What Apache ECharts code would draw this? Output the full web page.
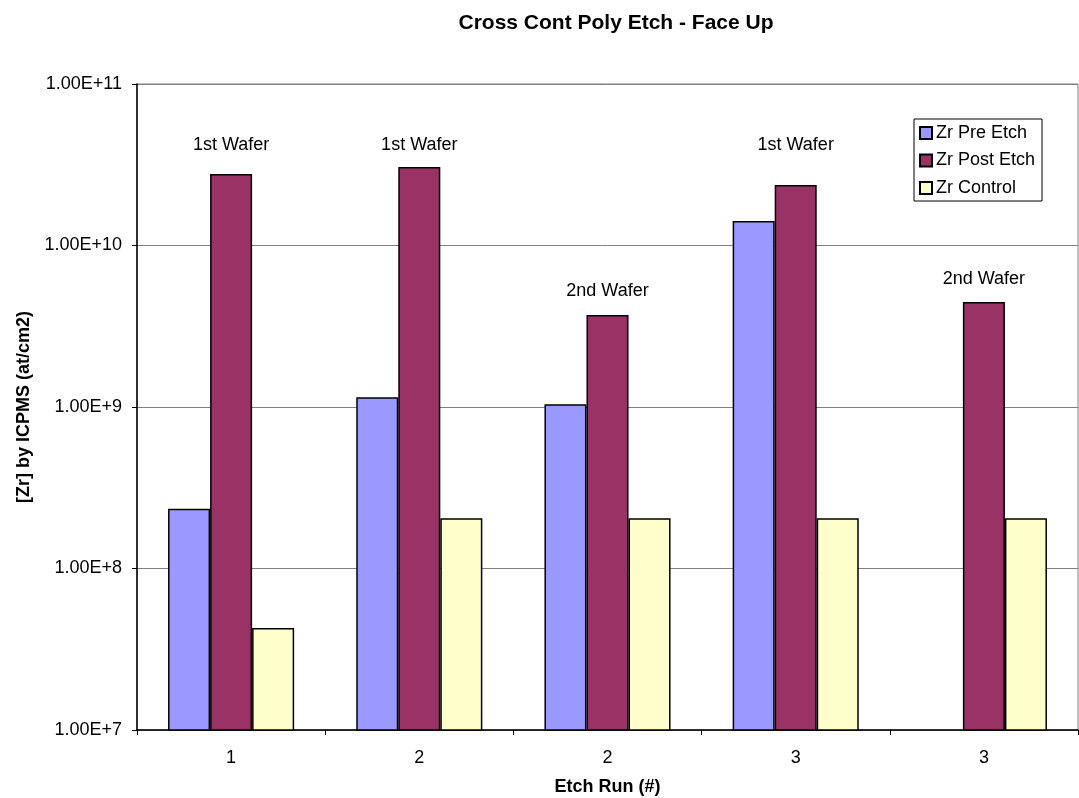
<!DOCTYPE html>
<html>
<head>
<meta charset="utf-8">
<script src="https://cdn.jsdelivr.net/npm/echarts@6/dist/echarts.min.js"></script>
<style>
  html, body { margin: 0; padding: 0; background: #fff; }
  #chart { width: 1079px; height: 798px; }
</style>
</head>
<body>
<div id="chart"></div>
<script>
// Etch runs along the x axis
const categories = ['1', '2', '2', '3', '3'];

// Zr surface concentration, at/cm2
const preEtch  = [2.34e8, 1.15e9, 1.04e9, 1.42e10, null];
const postEtch = [2.77e10, 3.06e10, 3.71e9, 2.37e10, 4.47e9];
const control  = [4.28e7, 2.05e8, 2.05e8, 2.05e8, 2.05e8];

// Wafer notes placed above each run
const waferNotes   = ['1st Wafer', '1st Wafer', '2nd Wafer', '1st Wafer', '2nd Wafer'];
const waferNoteAt  = [4.2e10, 4.2e10, 5.25e9, 4.2e10, 6.2e9];

const FONT = '"Liberation Sans", Arial, sans-serif';
const chart = echarts.init(document.getElementById('chart'));

const barBorder = { borderColor: '#000', borderWidth: 1.5 };

chart.setOption({
  animation: false,
  textStyle: { fontFamily: FONT },
  title: {
    text: 'Cross Cont Poly Etch - Face Up',
    left: 611, top: 8, textAlign: 'center',
    textStyle: { fontFamily: FONT, fontSize: 21, fontWeight: 'bold', color: '#000' }
  },
  legend: {
    data: ['Zr Pre Etch', 'Zr Post Etch', 'Zr Control'],
    orient: 'vertical',
    left: 914, top: 119,
    padding: [5, 7, 4, 5],
    borderColor: '#000', borderWidth: 1,
    itemWidth: 12, itemHeight: 12, itemGap: 9.5,
    icon: 'rect',
    textStyle: { fontFamily: FONT, fontSize: 18, color: '#000', padding: [0, 0, 0, -1] }
  },
  grid: {
    left: 137, right: 1, top: 84, bottom: 68,
    outerBoundsMode: 'none',
    containLabel: false,
    show: true, borderColor: '#808080', borderWidth: 1
  },
  xAxis: {
    type: 'category',
    data: categories,
    name: 'Etch Run (#)',
    nameLocation: 'middle',
    nameGap: 48,
    nameTextStyle: { fontFamily: FONT, fontSize: 18, fontWeight: 'bold', color: '#000' },
    axisLine: { lineStyle: { color: '#000', width: 1.5 } },
    axisTick: { show: true, length: 5, lineStyle: { color: '#000' } },
    axisLabel: { fontFamily: FONT, fontSize: 18, color: '#000', margin: 19 }
  },
  yAxis: {
    type: 'log',
    logBase: 10,
    min: 1e7, max: 1e11,
    name: '[Zr] by ICPMS (at/cm2)',
    nameLocation: 'middle',
    nameGap: 103,
    nameTextStyle: { fontFamily: FONT, fontSize: 18, fontWeight: 'bold', color: '#000' },
    axisLine: { show: true, lineStyle: { color: '#000', width: 1.5 } },
    axisTick: { show: true, length: 5, lineStyle: { color: '#000' } },
    axisLabel: {
      fontFamily: FONT, fontSize: 18, color: '#000', margin: 15,
      formatter: v => v.toExponential(2).toUpperCase()
    },
    splitLine: { show: true, lineStyle: { color: '#808080', width: 1 } }
  },
  series: [
    {
      name: 'Zr Pre Etch', type: 'bar', data: preEtch,
      barGap: '0%', barCategoryGap: '33%',
      itemStyle: Object.assign({ color: '#9999FF' }, barBorder)
    },
    {
      name: 'Zr Post Etch', type: 'bar', data: postEtch,
      barGap: '0%', barCategoryGap: '33%',
      itemStyle: Object.assign({ color: '#993366' }, barBorder)
    },
    {
      name: 'Zr Control', type: 'bar', data: control,
      barGap: '0%', barCategoryGap: '33%',
      itemStyle: Object.assign({ color: '#FFFFCC' }, barBorder)
    },
    {
      name: 'notes', type: 'scatter',
      symbolSize: 0,
      itemStyle: { opacity: 1 },
      data: waferNoteAt.map((v, i) => ({ value: [i, v], note: waferNotes[i] })),
      label: {
        show: true, position: 'inside',
        fontFamily: FONT, fontSize: 18, color: '#000',
        textBorderWidth: 0,
        formatter: p => p.data.note
      },
      silent: true
    }
  ]
});
</script>
</body>
</html>
